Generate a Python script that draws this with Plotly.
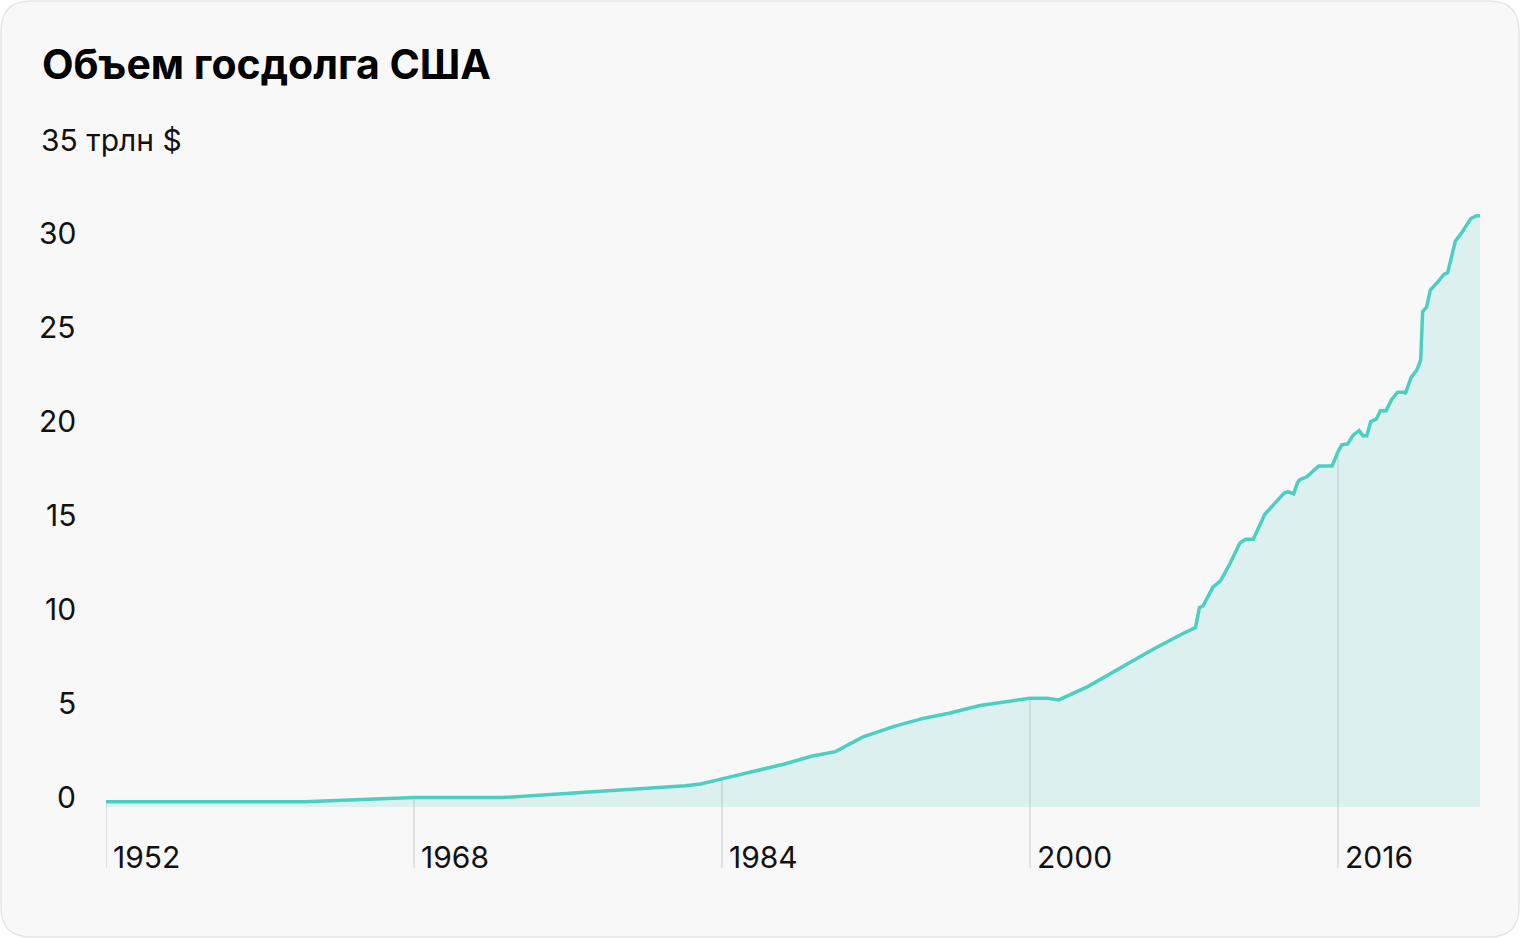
import numpy as np
import plotly.graph_objects as go

# ---- data ----
years = [1952.0, 1962.3, 1968.0, 1972.6, 1982.1, 1982.9, 1984.0, 1987.2, 1988.7, 1989.9,
         1991.3, 1992.9, 1994.5, 1995.8, 1997.4, 1998.8, 2000.0, 2000.9, 2001.5, 2003.0,
         2004.3, 2005.5, 2006.4, 2007.9, 2008.6, 2008.8, 2009.0, 2009.5, 2009.9, 2010.4,
         2010.9, 2011.2, 2011.6, 2012.2, 2012.6, 2013.2, 2013.4, 2013.7, 2013.9, 2014.0,
         2014.4, 2015.0, 2015.7, 2016.0, 2016.2, 2016.5, 2016.8, 2017.1, 2017.3, 2017.5,
         2017.7, 2018.0, 2018.2, 2018.5, 2018.8, 2019.1, 2019.45, 2019.5, 2019.8, 2020.1,
         2020.3, 2020.4, 2020.6, 2020.8, 2021.2, 2021.5, 2021.7, 2021.8, 2022.1, 2022.4,
         2022.9, 2023.2, 2023.38]
debt = [0.28, 0.28, 0.5, 0.5, 1.12, 1.22, 1.49, 2.27, 2.71, 2.94,
        3.71, 4.27, 4.72, 4.98, 5.39, 5.6, 5.78, 5.78, 5.69, 6.4,
        7.16, 7.91, 8.39, 9.2, 9.54, 10.6, 10.7, 11.69, 12.02, 12.96,
        14.03, 14.24, 14.24, 15.57, 16.01, 16.69, 16.77, 16.65, 17.25, 17.39,
        17.57, 18.14, 18.14, 18.9, 19.26, 19.31, 19.79, 20.02, 19.75, 19.75,
        20.49, 20.64, 21.08, 21.08, 21.69, 22.06, 22.06, 21.97, 22.85, 23.24,
        23.78, 26.35, 26.58, 27.5, 27.94, 28.33, 28.42, 28.83, 30.1, 30.5,
        31.3, 31.45, 31.45]
x_ticks = [1952, 1968, 1984, 2000, 2016]
y_ticks = [0, 5, 10, 15, 20, 25, 30]
title_text = "Объем госдолга США"
unit_text = "35 трлн $"
unit_value = 35

# ---- layout geometry ----
W, H = 1520, 938
ML, MR, MT, MB = 106, 40, 149, 70
PW, PH = W - ML - MR, H - MT - MB
Y_MIN = -3.25

FONT = "Inter, Roboto, 'Noto Sans', sans-serif"
LINE = "#4ccfc3"
FILL = "rgba(76,207,195,0.16)"
GRID = "#d9d9d9"
TXT = 30


def px_to_paper(px, py):
    return (px - ML) / PW, (H - MB - py) / PH


fig = go.Figure()
fig.add_trace(go.Scatter(
    x=years, y=debt, mode="lines", fill="tozeroy", fillcolor=FILL,
    line=dict(color=LINE, width=3.5), hoverinfo="skip", showlegend=False,
))

# card background (rounded rectangle)
x0, y0, x1, y1, r = 1, 1, W - 1, H - 1, 30
def P(px, py):
    a, b = px_to_paper(px, py)
    return f"{a:.5f},{b:.5f}"
path = (f"M {P(x0 + r, y0)} L {P(x1 - r, y0)} Q {P(x1, y0)} {P(x1, y0 + r)} "
        f"L {P(x1, y1 - r)} Q {P(x1, y1)} {P(x1 - r, y1)} "
        f"L {P(x0 + r, y1)} Q {P(x0, y1)} {P(x0, y1 - r)} "
        f"L {P(x0, y0 + r)} Q {P(x0, y0)} {P(x0 + r, y0)} Z")
shapes = [dict(type="path", path=path, xref="paper", yref="paper",
               fillcolor="#f8f8f8", line=dict(color="#e6e6e6", width=1.5), layer="below")]

# vertical grid lines below the curve
for t in x_ticks:
    top = float(np.interp(t, years, debt))
    shapes.append(dict(type="line", xref="x", yref="y", x0=t, x1=t, y0=Y_MIN, y1=top,
                       line=dict(color=GRID, width=1.5), layer="below"))

annotations = []
# title
tx, ty = px_to_paper(40, 64)
annotations.append(dict(text=f"<b>{title_text}</b>", xref="paper", yref="paper", x=tx, y=ty,
                        xanchor="left", yanchor="middle", showarrow=False,
                        font=dict(family=FONT, size=41, color="#000000")))
# unit label
ux, _ = px_to_paper(39, 0)
annotations.append(dict(text=unit_text, xref="paper", yref="y", x=ux, y=unit_value, yshift=9,
                        xanchor="left", yanchor="middle", showarrow=False,
                        font=dict(family=FONT, size=TXT, color="#111111")))
# y tick labels
rx, _ = px_to_paper(78, 0)
for v in y_ticks:
    annotations.append(dict(text=str(v), xref="paper", yref="y", x=rx, y=v, yshift=10,
                            xanchor="right", yanchor="middle", showarrow=False,
                            font=dict(family=FONT, size=TXT, color="#111111")))
# x tick labels
for t in x_ticks:
    annotations.append(dict(text=str(t), xref="x", yref="y", x=t, y=Y_MIN, yshift=11,
                            xshift=5, xanchor="left", yanchor="middle", showarrow=False,
                            font=dict(family=FONT, size=TXT, color="#111111")))

fig.update_layout(
    width=W, height=H,
    margin=dict(l=ML, r=MR, t=MT, b=MB, pad=0),
    paper_bgcolor="#ffffff", plot_bgcolor="rgba(0,0,0,0)",
    xaxis=dict(range=[years[0], years[-1]], showgrid=False, zeroline=False,
               showticklabels=False, ticks="", showline=False, fixedrange=True),
    yaxis=dict(range=[Y_MIN, unit_value], showgrid=False, zeroline=False,
               showticklabels=False, ticks="", showline=False, fixedrange=True),
    shapes=shapes, annotations=annotations, showlegend=False,
)

fig.write_html("out.html", config={"displayModeBar": False})
